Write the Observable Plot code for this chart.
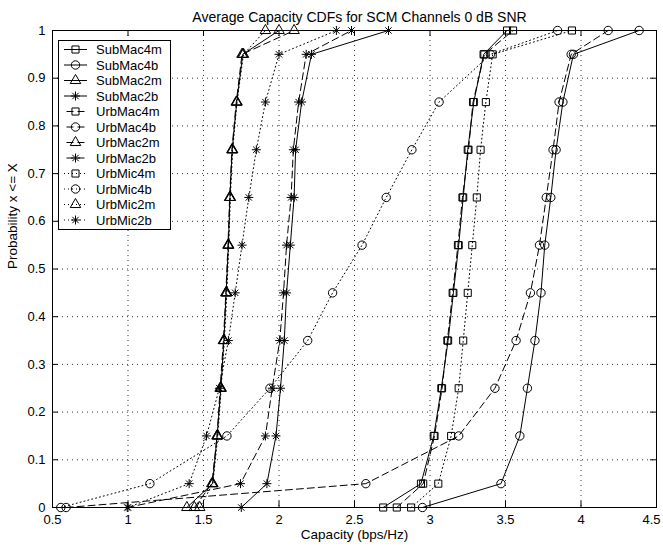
<!DOCTYPE html>
<html>
<head>
<meta charset="utf-8">
<script src="https://cdn.jsdelivr.net/npm/d3@7"></script>
<script src="https://cdn.jsdelivr.net/npm/@observablehq/plot@0.6"></script>
<style>
  html, body { margin: 0; padding: 0; background: #fff; }
  #chart svg { display: block; }
</style>
</head>
<body>
<div id="chart"></div>
<script>
// Cumulative probability levels at which each capacity curve is sampled
const probs = [0, 0.05, 0.15, 0.25, 0.35, 0.45, 0.55, 0.65, 0.75, 0.85, 0.95, 1];

// Capacity (bps/Hz) per channel scenario, one value per probability level
const subMac4m = [2.69, 2.94, 3.025, 3.075, 3.12, 3.155, 3.19, 3.22, 3.25, 3.29, 3.355, 3.51];
const subMac4b = [2.95, 3.47, 3.595, 3.645, 3.695, 3.735, 3.76, 3.80, 3.835, 3.88, 3.95, 4.385];
const subMac2m = [1.39, 1.56, 1.59, 1.615, 1.635, 1.65, 1.665, 1.675, 1.69, 1.72, 1.76, 2.0];
const subMac2b = [1.75, 1.92, 1.98, 2.01, 2.035, 2.05, 2.075, 2.10, 2.11, 2.15, 2.215, 2.725];
const urbMac4m = [2.78, 2.955, 3.03, 3.08, 3.115, 3.15, 3.185, 3.215, 3.255, 3.285, 3.36, 3.55];
const urbMac4b = [0.59, 2.575, 3.19, 3.43, 3.57, 3.665, 3.725, 3.77, 3.815, 3.855, 3.935, 4.18];
const urbMac2m = [1.44, 1.555, 1.59, 1.61, 1.632, 1.648, 1.662, 1.673, 1.688, 1.717, 1.755, 2.10];
const urbMac2b = [0.995, 1.745, 1.91, 1.955, 2.005, 2.03, 2.05, 2.08, 2.095, 2.13, 2.18, 2.48];
const urbMic4m = [2.875, 3.055, 3.14, 3.19, 3.22, 3.25, 3.28, 3.31, 3.335, 3.37, 3.415, 3.94];
const urbMic4b = [0.555, 1.145, 1.655, 1.94, 2.19, 2.355, 2.55, 2.71, 2.88, 3.06, 3.40, 3.845];
const urbMic2m = [1.475, 1.562, 1.595, 1.617, 1.638, 1.655, 1.667, 1.678, 1.693, 1.722, 1.765, 1.91];
const urbMic2b = [1.0, 1.405, 1.52, 1.605, 1.665, 1.71, 1.755, 1.80, 1.85, 1.91, 2.0, 2.38];

const seriesNames = ["SubMac4m", "SubMac4b", "SubMac2m", "SubMac2b",
                     "UrbMac4m", "UrbMac4b", "UrbMac2m", "UrbMac2b",
                     "UrbMic4m", "UrbMic4b", "UrbMic2m", "UrbMic2b"];
const seriesValues = [subMac4m, subMac4b, subMac2m, subMac2b,
                      urbMac4m, urbMac4b, urbMac2m, urbMac2b,
                      urbMic4m, urbMic4b, urbMic2m, urbMic2b];

// Axis ticks and texts
const xTicks = [0.5, 1, 1.5, 2, 2.5, 3, 3.5, 4, 4.5];
const yTicks = [0, 0.1, 0.2, 0.3, 0.4, 0.5, 0.6, 0.7, 0.8, 0.9, 1];
const titleText = "Average Capacity CDFs for SCM Channels 0 dB SNR";
const xLabel = "Capacity (bps/Hz)";
const yLabel = "Probability x <= X";

// Long-format table for Plot
const rows = seriesNames.flatMap((name, i) =>
  seriesValues[i].map((c, j) => ({series: name, capacity: c, prob: probs[j]})));

// Layout
const W = 663, H = 548;
const M = {top: 30, right: 7, bottom: 41, left: 52};
const innerW = W - M.left - M.right;
const innerH = H - M.top - M.bottom;
const tickLen = 6;

// Line style by environment, marker by antenna configuration
const dashFor = {SubMac: null, UrbMac: "7,4", UrbMic: "1,3"};
const dashOffsetFor = {SubMac: 0, UrbMac: 8.5, UrbMic: 0};
const familyOf = name => name.slice(0, 6);
const kindOf = name => name.slice(-2);

// Eight-armed asterisk marker
const asterisk = {
  draw(context, size) {
    const r = Math.sqrt(size / Math.PI);
    const d = r * Math.SQRT1_2;
    context.moveTo(-r, 0); context.lineTo(r, 0);
    context.moveTo(0, -r); context.lineTo(0, r);
    context.moveTo(-d, -d); context.lineTo(d, d);
    context.moveTo(-d, d); context.lineTo(d, -d);
  }
};
const symbolFor = {"4m": "square", "4b": "circle", "2m": "triangle", "2b": asterisk};
const d3SymbolFor = {"4m": d3.symbolSquare, "4b": d3.symbolCircle, "2m": d3.symbolTriangle, "2b": asterisk};
const radiusFor = {"4m": 4, "4b": 4.2, "2m": 3.9, "2b": 4.5};

const seriesMarks = seriesNames.flatMap(name => {
  const data = rows.filter(d => d.series === name);
  const fam = familyOf(name), kind = kindOf(name);
  return [
    Plot.line(data, {x: "capacity", y: "prob", stroke: "#000", strokeWidth: 1,
      strokeDasharray: dashFor[fam] || undefined}),
    Plot.dot(data, {x: "capacity", y: "prob", symbol: symbolFor[kind], r: radiusFor[kind],
      stroke: "#000", fill: "none", strokeWidth: 1})
  ];
});

const plot = Plot.plot({
  width: W,
  height: H,
  marginTop: M.top,
  marginRight: M.right,
  marginBottom: M.bottom,
  marginLeft: M.left,
  style: {fontFamily: "'Liberation Sans', Arial, Helvetica, sans-serif", fontSize: "13px", color: "#000", background: "#fff"},
  x: {domain: [0.5, 4.5], ticks: xTicks, tickFormat: d => String(d), tickSize: 0, tickPadding: 7, label: null},
  y: {domain: [0, 1], ticks: yTicks, tickFormat: d => String(d), tickSize: 0, tickPadding: 7, label: null},
  marks: [
    // dotted grid
    Plot.ruleX(xTicks.slice(1, -1), {x: d => d, stroke: "#000", strokeWidth: 1, strokeDasharray: "1,4", strokeOpacity: 0.8}),
    Plot.ruleY(yTicks.slice(1, -1), {y: d => d, stroke: "#000", strokeWidth: 1, strokeDasharray: "1,4", strokeOpacity: 0.8}),
    // inward tick marks on all four sides
    Plot.ruleX(xTicks, {x: d => d, stroke: "#000", insetTop: innerH - tickLen}),
    Plot.ruleX(xTicks, {x: d => d, stroke: "#000", insetBottom: innerH - tickLen}),
    Plot.ruleY(yTicks, {y: d => d, stroke: "#000", insetRight: innerW - tickLen}),
    Plot.ruleY(yTicks, {y: d => d, stroke: "#000", insetLeft: innerW - tickLen}),
    ...seriesMarks,
    Plot.frame({stroke: "#000", strokeWidth: 1}),
    // title and axis labels
    Plot.text([titleText], {text: d => d, frameAnchor: "top", dy: -18, dx: 5, fontSize: 14, fill: "#000"}),
    Plot.text([xLabel], {text: d => d, frameAnchor: "bottom", dy: 31, fontSize: 13.5, fill: "#000"}),
    Plot.text([yLabel], {text: d => d, frameAnchor: "left", dx: -40, rotate: -90, fontSize: 13.5, fill: "#000"})
  ]
});

// Keep the right-most x tick label inside the canvas
d3.select(plot).selectAll("text").filter(function () { return this.textContent === "4.5"; })
  .attr("text-anchor", "end").attr("dx", 4);

// Legend box in the upper-left corner of the axes
const svg = d3.select(plot);
const lg = svg.append("g").attr("class", "legend").attr("text-anchor", "start");
const lgX = 58.5, lgY = 40.5, lgW = 112, lgH = 189, rowH = 15.5;
lg.append("rect")
  .attr("x", lgX).attr("y", lgY).attr("width", lgW).attr("height", lgH)
  .attr("fill", "#fff").attr("stroke", "#000").attr("stroke-width", 1);
seriesNames.forEach((name, i) => {
  const y = lgY + 9 + i * rowH;
  const fam = familyOf(name), kind = kindOf(name);
  const line = lg.append("line")
    .attr("x1", 64).attr("x2", 87).attr("y1", y).attr("y2", y)
    .attr("stroke", "#000").attr("stroke-width", 1);
  if (dashFor[fam]) line.attr("stroke-dasharray", dashFor[fam]).attr("stroke-dashoffset", dashOffsetFor[fam]);
  const r = radiusFor[kind];
  lg.append("path")
    .attr("d", d3.symbol(d3SymbolFor[kind], r * r * Math.PI)())
    .attr("transform", `translate(75.5,${y})`)
    .attr("fill", "none").attr("stroke", "#000").attr("stroke-width", 1);
  lg.append("text")
    .attr("x", 96).attr("y", y).attr("dy", "0.36em")
    .attr("text-anchor", "start")
    .attr("fill", "#000").attr("font-size", 13)
    .text(name);
});

document.getElementById("chart").appendChild(plot);
</script>
</body>
</html>
